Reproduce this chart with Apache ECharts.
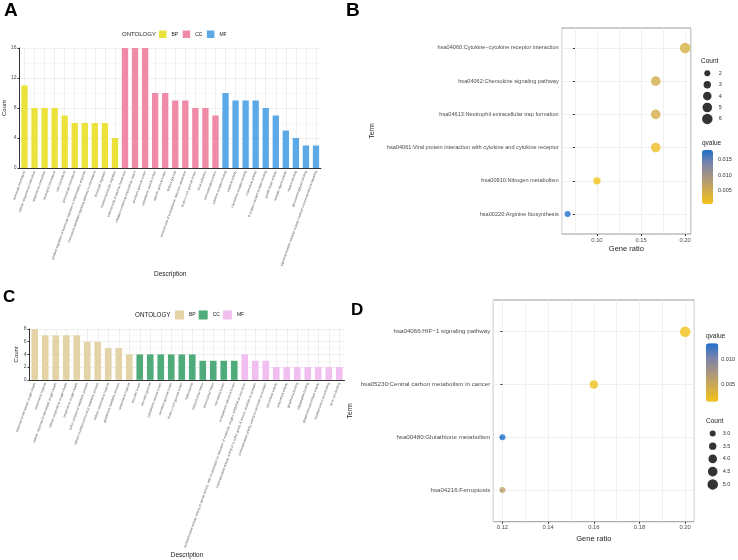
<!DOCTYPE html>
<html>
<head>
<meta charset="utf-8">
<script src="https://cdn.jsdelivr.net/npm/echarts@6/dist/echarts.min.js"></script>
<style>
  html, body { margin: 0; padding: 0; background: #fff; }
  #main { width: 738px; height: 560px; }
</style>
</head>
<body>
<div id="main"></div>
<script>
// ---- panel A: GO terms ----
const bpTermsA = ["leukocyte chemotaxis", "cellular response to chemokine", "response to chemokine", "neutrophil chemotaxis", "cell chemotaxis", "granulocyte chemotaxis", "positive regulation of leukocyte migration in inflammatory response", "chemokine-mediated signaling pathway in chemotaxis", "leukocyte migration", "myeloid leukocyte migration"];
const bpCountsA = [11, 8, 8, 8, 7, 6, 6, 6, 6, 4];
const ccTermsA = ["external side of plasma membrane", "collagen-containing extracellular matrix", "secretory granule lumen", "cytoplasmic vesicle lumen", "specific granule lumen", "tertiary granule", "lumenal side of endoplasmic reticulum membrane", "ficolin-1-rich granule lumen", "focal adhesion", "cell-substrate junction"];
const ccCountsA = [16, 16, 16, 10, 10, 9, 9, 8, 8, 7];
const mfTermsA = ["cytokine receptor binding", "cytokine activity", "chemokine receptor binding", "chemokine activity", "G protein-coupled receptor binding", "growth factor activity", "receptor ligand activity", "heparin binding", "glycosaminoglycan binding", "signaling receptor activator activity involved in transmembrane signaling"];
const mfCountsA = [10, 9, 9, 9, 8, 7, 5, 4, 3, 3];

// ---- panel C: GO terms ----
const bpTermsC = ["response to decreased oxygen levels", "response to hypoxia", "cellular response to decreased oxygen levels", "cellular response to oxygen levels", "response to oxygen levels", "sulfur compound metabolic process", "cellular modified amino acid metabolic process", "cellular response to hypoxia", "glutathione metabolic process", "response to hypoxia"];
const bpCountsC = [8, 7, 7, 7, 7, 6, 6, 5, 5, 4];
const ccTermsC = ["vacuolar lumen", "azurophil granule", "cytoplasmic vesicle lumen", "secretory granule lumen", "ficolin-1-rich granule lumen", "melanosome", "mitochondrial matrix", "peroxisomal matrix", "microbody lumen", "endoplasmic reticulum lumen"];
const ccCountsC = [4, 4, 4, 4, 4, 4, 3, 3, 3, 3];
const mfTermsC = ["oxidoreductase activity, acting on paired donors, with incorporation or reduction of molecular oxygen, NAD(P)H as one donor", "oxidoreductase activity, acting on a sulfur group of donors, disulfide as acceptor", "oxidoreductase activity, acting on peroxide as acceptor", "peroxidase activity", "antioxidant activity", "glutathione binding", "oligopeptide binding", "glutathione peroxidase activity", "modified amino acid binding", "ferric iron binding"];
const mfCountsC = [4, 3, 3, 2, 2, 2, 2, 2, 2, 2];

// ---- panel B: KEGG ----
const keggTermsB = ["hsa04060:Cytokine−cytokine receptor interaction", "hsa04062:Chemokine signaling pathway", "hsa04613:Neutrophil extracellular trap formation", "hsa04061:Viral protein interaction with cytokine and cytokine receptor", "hsa00910:Nitrogen metabolism", "hsa00220:Arginine biosynthesis"];
const keggRatioB = [0.2, 0.1667, 0.1667, 0.1667, 0.1, 0.0667];
const keggCountB = [6, 5, 5, 5, 3, 2];
const keggQB = [0.0043, 0.0047, 0.0047, 0.0017, 0.0008, 0.0181];
const ratioTicksB = [0.10, 0.15, 0.20];
const qTicksB = [0.005, 0.010, 0.015];
const countLegendB = [2, 3, 4, 5, 6];

// ---- panel D: KEGG ----
const keggTermsD = ["hsa04066:HIF−1 signaling pathway", "hsa05230:Central carbon metabolism in cancer", "hsa00480:Glutathione metabolism", "hsa04216:Ferroptosis"];
const keggRatioD = [0.20, 0.16, 0.12, 0.12];
const keggCountD = [5, 4, 3, 3];
const keggQD = [0.0015, 0.0019, 0.0132, 0.0058];
const ratioTicksD = [0.12, 0.14, 0.16, 0.18, 0.20];
const qTicksD = [0.005, 0.010];
const countLegendD = [3.0, 3.5, 4.0, 4.5, 5.0];

const colorsA = ["#ebe23c", "#f08ba7", "#5ca9e8"];
const colorsC = ["#e4d3a7", "#4fab79", "#f0bff0"];
const qColors = ["#f2c318", "#d0ab4e", "#a99580", "#7a84aa", "#1e6fcc"];
const txt = "#4d4d4d";

const chart = echarts.init(document.getElementById("main"));

function pad(vals, before, after) {
  return Array(before).fill("-").concat(vals, Array(after).fill("-"));
}
function sizer(cmin, cmax, dmin, dmax) {
  return (c) => Math.sqrt(dmin * dmin + (c - cmin) / (cmax - cmin) * (dmax * dmax - dmin * dmin));
}
const sizeB = sizer(2, 6, 6, 10.5);
const sizeD = sizer(3, 5, 6, 10.5);

const catsA = bpTermsA.concat(ccTermsA, mfTermsA);
const catsC = bpTermsC.concat(ccTermsC, mfTermsC);

function barX(gridIndex, cats) {
  return {
    type: "category", gridIndex, data: cats,
    axisLine: { lineStyle: { color: "#333", width: 1 } },
    axisTick: { alignWithLabel: true, length: 2, lineStyle: { color: "#333" } },
    axisLabel: { interval: 0, rotate: 70, fontSize: 3.2, color: txt, margin: 3 },
    splitLine: { show: true, alignWithLabel: true, lineStyle: { color: "#ebebeb", width: 0.8 } },
    name: "Description", nameLocation: "middle",
    nameTextStyle: { fontSize: 6.5, color: "#222" }
  };
}
function barY(gridIndex, max, interval) {
  return {
    type: "value", gridIndex, min: 0, max, interval,
    axisLine: { show: true, lineStyle: { color: "#333", width: 1 } },
    axisTick: { show: true, length: 2, lineStyle: { color: "#333" } },
    axisLabel: { fontSize: 5, color: txt, margin: 3 },
    splitLine: { lineStyle: { color: "#ebebeb", width: 0.8 } },
    minorTick: { show: false, splitNumber: 2 },
    minorSplitLine: { show: true, lineStyle: { color: "#f3f3f3", width: 0.6 } },
    name: "Count", nameLocation: "middle",
    nameTextStyle: { fontSize: 6, color: "#222" }
  };
}
function groupBars(xi, cats, counts, colors, stack) {
  const names = ["BP", "CC", "MF"];
  let before = 0;
  const total = counts.reduce((s, c) => s + c.length, 0);
  return counts.map((vals, k) => {
    const s = {
      name: names[k], type: "bar", xAxisIndex: xi, yAxisIndex: xi, stack,
      barWidth: "63%", itemStyle: { color: colors[k] },
      data: pad(vals, before, total - before - vals.length)
    };
    before += vals.length;
    return s;
  });
}

const xA = barX(0, catsA); xA.nameGap = 98;
const xC = barX(1, catsC); xC.nameGap = 163;
const yA = barY(0, 16, 4); yA.nameGap = 11;
const yC = barY(1, 8, 2); yC.nameGap = 8;

function dotY(gridIndex, terms, fontSize, nameGap) {
  return {
    type: "value", gridIndex, inverse: true, min: 0.4, max: terms.length + 0.6,
    axisLine: { show: false },
    axisTick: { show: true, length: 2, customValues: terms.map((t, i) => i + 1), lineStyle: { color: "#333" } },
    axisLabel: {
      customValues: terms.map((t, i) => i + 1), fontSize, color: txt, margin: 3,
      formatter: (v) => (Number.isInteger(v) ? terms[v - 1] : "")
    },
    splitLine: { show: true, lineStyle: { color: "#ececec", width: 0.8 } },
    name: "Term", nameLocation: "middle", nameGap,
    nameTextStyle: { fontSize: 7, color: "#222" }
  };
}
function dotX(gridIndex, min, max, ticks, splitNumber, nameGap) {
  return {
    type: "value", gridIndex, min, max, splitNumber,
    axisLine: { show: false },
    axisTick: { show: true, length: 2, customValues: ticks, lineStyle: { color: "#333" } },
    axisLabel: { customValues: ticks, fontSize: 5.8, color: txt, margin: 3,
      formatter: (v) => v.toFixed(2) },
    splitLine: { show: false },
    name: "Gene ratio", nameLocation: "middle", nameGap,
    nameTextStyle: { fontSize: 7.5, color: "#222" }
  };
}
// hidden axis, used only for the light vertical grid lines (one step per minor break)
function gridX(gridIndex, min, max, origin, step) {
  const lo = (min - origin) / step, hi = (max - origin) / step;
  return {
    type: "value", gridIndex, min: lo, max: hi, splitNumber: Math.round(hi - lo),
    axisLine: { show: false }, axisTick: { show: false }, axisLabel: { show: false },
    splitLine: { show: true, lineStyle: { color: "#ececec", width: 0.8 } }
  };
}
const hiddenX = (gridIndex) => ({ type: "value", gridIndex, min: -1, max: 1, show: false });
function legendY(gridIndex, vals, fmt, margin) {
  return {
    type: "category", gridIndex, inverse: true, position: "right", data: vals.map(fmt),
    axisLine: { show: false }, axisTick: { show: false },
    axisLabel: { fontSize: 5.5, color: "#333", margin }
  };
}
function qAxis(gridIndex, min, max, ticks, margin) {
  return {
    type: "value", gridIndex, min, max, position: "right",
    axisLine: { show: false }, axisTick: { show: false }, splitLine: { show: false },
    axisLabel: { customValues: ticks, fontSize: 5.5, color: "#333", margin,
      formatter: (v) => v.toFixed(3) }
  };
}

const bMinX = 0.06, bMaxX = 0.2067;
const dMinX = 0.116, dMaxX = 0.204;

const option = {
  animation: false,
  textStyle: { fontFamily: "Liberation Sans, Arial, sans-serif" },
  title: [
    { text: "A", left: 4, top: 1, padding: 0, textStyle: { fontSize: 19, fontWeight: "bold", color: "#000" } },
    { text: "B", left: 346, top: 1, padding: 0, textStyle: { fontSize: 19, fontWeight: "bold", color: "#000" } },
    { text: "C", left: 3, top: 289, padding: 0, textStyle: { fontSize: 17, fontWeight: "bold", color: "#000" } },
    { text: "D", left: 351, top: 302, padding: 0, textStyle: { fontSize: 17, fontWeight: "bold", color: "#000" } },
    { text: "ONTOLOGY", left: 122, top: 31, padding: 0, textStyle: { fontSize: 6, fontWeight: "normal", color: "#222" } },
    { text: "ONTOLOGY", left: 135, top: 312, padding: 0, textStyle: { fontSize: 6.3, fontWeight: "normal", color: "#222" } },
    { text: "Count", left: 701, top: 58, padding: 0, textStyle: { fontSize: 6.5, fontWeight: "normal", color: "#222" } },
    { text: "qvalue", left: 702, top: 139.5, padding: 0, textStyle: { fontSize: 6.5, fontWeight: "normal", color: "#222" } },
    { text: "qvalue", left: 706, top: 333, padding: 0, textStyle: { fontSize: 6.5, fontWeight: "normal", color: "#222" } },
    { text: "Count", left: 706, top: 418, padding: 0, textStyle: { fontSize: 6.5, fontWeight: "normal", color: "#222" } }
  ],
  legend: [
    {
      left: 159, top: 30.5, padding: 0, itemWidth: 7.5, itemHeight: 7.5, itemGap: 4.5, selectedMode: false,
      textStyle: { fontSize: 5, color: "#222" },
      data: ["BP", "CC", "MF"].map((n, k) => ({ name: n, icon: "rect", itemStyle: { color: colorsA[k] } }))
    },
    {
      left: 175, top: 310.5, padding: 0, itemWidth: 9, itemHeight: 9, itemGap: 3, selectedMode: false,
      textStyle: { fontSize: 5, color: "#222" },
      data: ["BP", "CC", "MF"].map((n, k) => ({ name: n, icon: "rect", itemStyle: { color: colorsC[k] } }))
    }
  ],
  grid: [
    { left: 19, top: 48, width: 302, height: 120 },
    { left: 29.5, top: 329, width: 315, height: 60 },
    { left: 561.7, top: 28, width: 129.3, height: 206, show: true, borderColor: "#9a9a9a", borderWidth: 1, backgroundColor: "transparent" },
    { left: 493.3, top: 300, width: 201, height: 221.7, show: true, borderColor: "#9a9a9a", borderWidth: 1, backgroundColor: "transparent" },
    { left: 702.8, top: 67.6, width: 9, height: 57 },
    { left: 702, top: 150, width: 11, height: 54 },
    { left: 706, top: 343.3, width: 12.3, height: 58.4 },
    { left: 707.7, top: 427, width: 10, height: 63.75 }
  ],
  xAxis: [
    xA,
    xC,
    dotX(2, bMinX, bMaxX, ratioTicksB, 3, 11),
    gridX(2, bMinX, bMaxX, 0.075, 0.025),
    dotX(3, dMinX, dMaxX, ratioTicksD, 4, 13),
    gridX(3, dMinX, dMaxX, 0.12, 0.01),
    hiddenX(4),
    hiddenX(5),
    hiddenX(6),
    hiddenX(7)
  ],
  yAxis: [
    yA,
    yC,
    dotY(2, keggTermsB, 5.6, 186),
    dotY(3, keggTermsD, 6.2, 140),
    legendY(4, countLegendB, (v) => String(v), 7),
    qAxis(5, 0.0008, 0.0181, qTicksB, 5),
    qAxis(6, 0.0015, 0.0132, qTicksD, 3.5),
    legendY(7, countLegendD, (v) => v.toFixed(1), 5)
  ],
  visualMap: [
    {
      type: "continuous", seriesIndex: 6, dimension: 3, min: 0.0008, max: 0.0181,
      inRange: { color: qColors }, left: 702, top: 150, itemWidth: 11, itemHeight: 54,
      calculable: false, padding: 0, text: null, hoverLink: false
    },
    {
      type: "continuous", seriesIndex: 7, dimension: 3, min: 0.0015, max: 0.0132,
      inRange: { color: qColors }, left: 706, top: 343.3, itemWidth: 12.3, itemHeight: 58.4,
      calculable: false, padding: 0, text: null, hoverLink: false
    }
  ],
  series: [
    ...groupBars(0, catsA, [bpCountsA, ccCountsA, mfCountsA], colorsA, "A"),
    ...groupBars(1, catsC, [bpCountsC, ccCountsC, mfCountsC], colorsC, "C"),
    {
      type: "scatter", xAxisIndex: 2, yAxisIndex: 2,
      data: keggRatioB.map((r, i) => [r, i + 1, keggCountB[i], keggQB[i]]),
      symbolSize: (v) => sizeB(v[2])
    },
    {
      type: "scatter", xAxisIndex: 4, yAxisIndex: 3,
      data: keggRatioD.map((r, i) => [r, i + 1, keggCountD[i], keggQD[i]]),
      symbolSize: (v) => sizeD(v[2])
    },
    {
      type: "scatter", xAxisIndex: 6, yAxisIndex: 4, itemStyle: { color: "#000" },
      data: countLegendB.map((c, i) => [0, i, c]),
      symbolSize: (v) => sizeB(v[2])
    },
    {
      type: "scatter", xAxisIndex: 9, yAxisIndex: 7, itemStyle: { color: "#000" },
      data: countLegendD.map((c, i) => [0, i, c]),
      symbolSize: (v) => sizeD(v[2])
    }
  ]
};

chart.setOption(option);
window.addEventListener("resize", () => chart.resize());
</script>
</body>
</html>
